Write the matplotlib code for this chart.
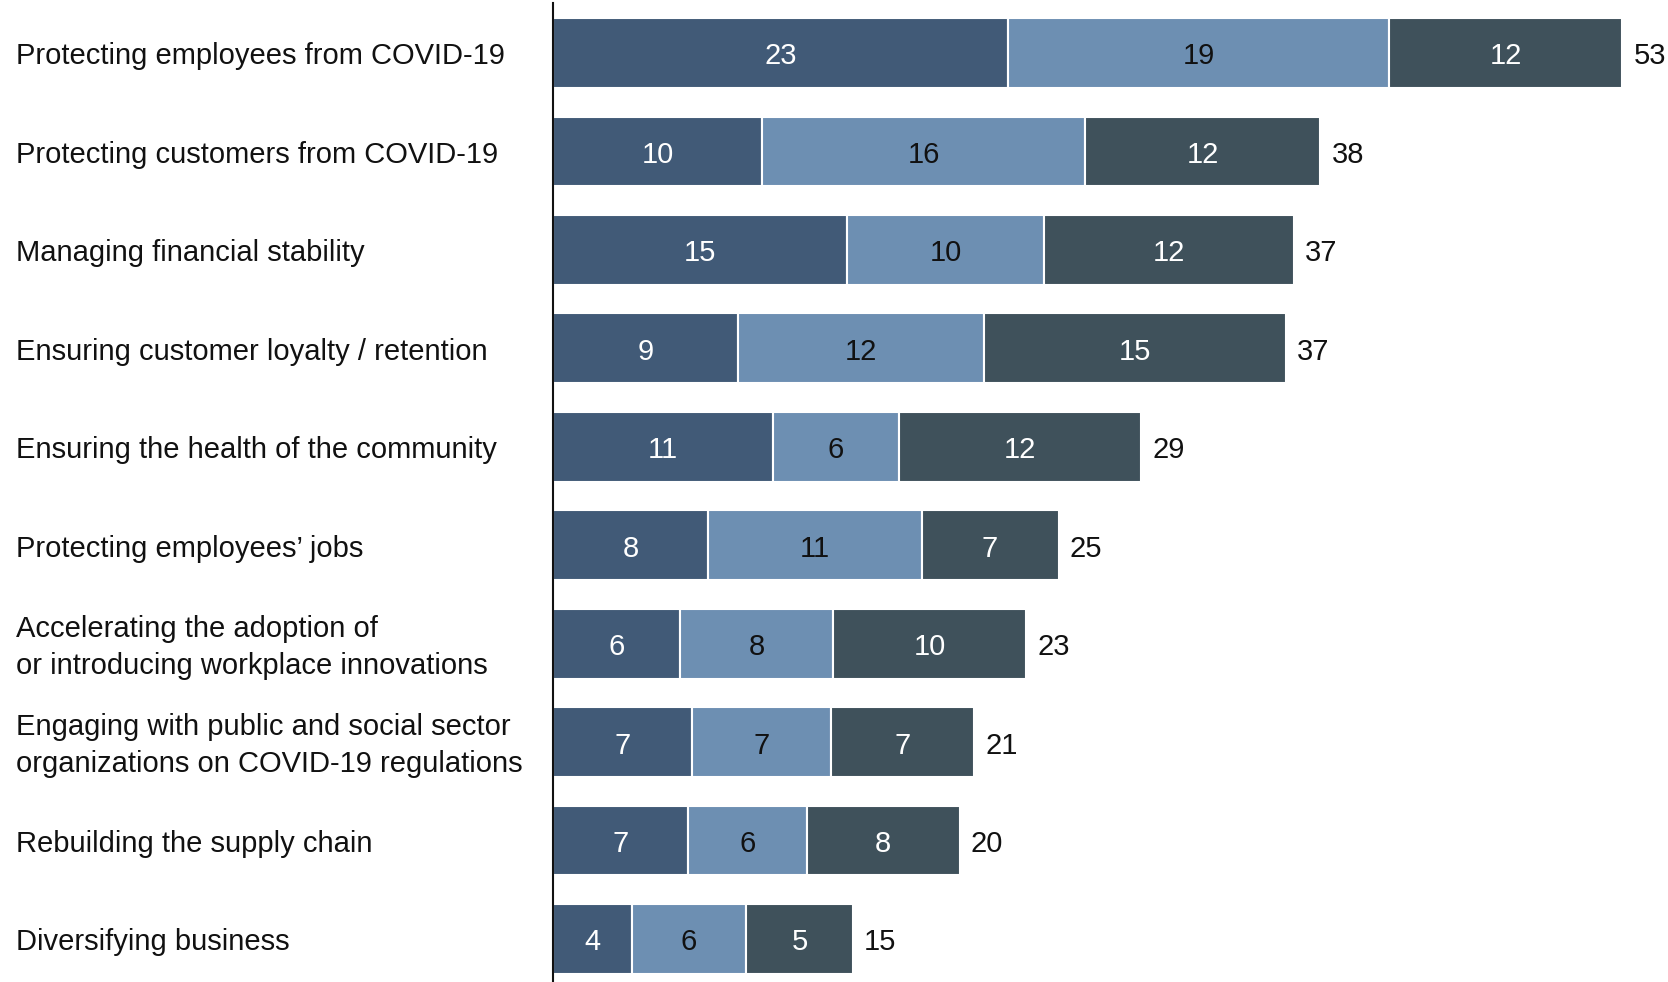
import matplotlib.pyplot as plt
from matplotlib.transforms import blended_transform_factory, offset_copy

# Datos del gráfico (anchos, se muestran redondeados)
categorias = [
    "Protecting employees from COVID-19",
    "Protecting customers from COVID-19",
    "Managing financial stability",
    "Ensuring customer loyalty / retention",
    "Ensuring the health of the community",
    "Protecting employees\u2019 jobs",
    "Accelerating the adoption of\nor introducing workplace innovations",
    "Engaging with public and social sector\norganizations on COVID-19 regulations",
    "Rebuilding the supply chain",
    "Diversifying business",
]
serie_1 = [22.6, 10.4, 14.6, 9.2, 10.9, 7.7, 6.3, 6.9, 6.7, 3.9]
serie_2 = [18.9, 16.0, 9.8, 12.2, 6.3, 10.6, 7.6, 6.9, 5.9, 5.7]
serie_3 = [11.6, 11.7, 12.4, 15.0, 12.0, 6.8, 9.6, 7.1, 7.6, 5.3]
totales = [53, 38, 37, 37, 29, 25, 23, 21, 20, 15]

colores = ["#415a77", "#6d8fb2", "#3f515b"]
color_texto = ["white", "#111111", "white"]

plt.rcParams["font.family"] = ["Liberation Sans", "DejaVu Sans"]
tam = 21

fig = plt.figure(figsize=(16.68, 9.82), dpi=100)
ax = fig.add_axes([553 / 1668, 0, 1 - 553 / 1668, 1 - 3 / 982])

# pequeño desplazamiento hacia abajo para centrar el texto en la barra
trans_datos = offset_copy(ax.transData, fig=fig, x=0, y=-2.5, units="points")

posiciones = list(range(len(categorias)))
izquierda = [0] * len(categorias)
for serie, color, ctexto in zip([serie_1, serie_2, serie_3], colores, color_texto):
    barras = ax.barh(posiciones, serie, left=izquierda, height=0.71,
                     color=color, edgecolor="white", linewidth=1.5)
    for b, v in zip(barras, serie):
        ax.text(b.get_x() + b.get_width() / 2, b.get_y() + b.get_height() / 2,
                f"{v:.0f}", ha="center", va="center", color=ctexto, fontsize=tam,
                transform=trans_datos)
    izquierda = [a + b for a, b in zip(izquierda, serie)]

# Totales a la derecha de cada barra
for p, fin, t in zip(posiciones, izquierda, totales):
    ax.text(fin + 0.55, p, str(t), ha="left", va="center", color="#111111",
            fontsize=tam, transform=trans_datos)

# Etiquetas de categorías alineadas a la izquierda
trans = offset_copy(blended_transform_factory(fig.transFigure, ax.transData),
                    fig=fig, x=0, y=-2.5, units="points")
for p, cat in zip(posiciones, categorias):
    ax.text(16 / 1668, p, cat, transform=trans, ha="left", va="center",
            fontsize=tam, color="#111111", linespacing=1.42)

ax.set_xlim(0, 55.36)
ax.set_ylim(9.437, -0.508)
ax.set_xticks([])
ax.set_yticks([])
for lado in ["top", "right", "bottom"]:
    ax.spines[lado].set_visible(False)
ax.spines["left"].set_linewidth(1.5)
ax.spines["left"].set_color("#111111")

fig.savefig("out.png", dpi=100)
